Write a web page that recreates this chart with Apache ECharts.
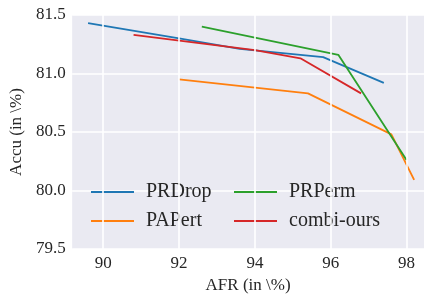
<!DOCTYPE html>
<html><head><meta charset="utf-8">
<script src="https://cdn.jsdelivr.net/npm/echarts@6/dist/echarts.min.js"></script>
<style>html,body{margin:0;padding:0;background:#fff}#c{width:424px;height:299px}</style>
</head><body><div id="c"></div>
<script>
const seriesNames = ['PRDrop', 'PAPert', 'PRPerm', 'combi-ours'];
const prdropX = [89.6, 92.0, 93.6, 95.8, 97.4];
const prdropY = [81.43, 81.30, 81.21, 81.14, 80.92];
const papertX = [92.0, 95.4, 97.6, 98.2];
const papertY = [80.95, 80.83, 80.48, 80.09];
const prpermX = [92.6, 96.2, 98.0];
const prpermY = [81.40, 81.16, 80.26];
const combiX = [90.8, 94.0, 95.2, 96.8];
const combiY = [81.33, 81.20, 81.13, 80.83];
const xTicks = [90, 92, 94, 96, 98];
const yTicks = [79.5, 80.0, 80.5, 81.0, 81.5];
const colors = ['#1f77b4', '#ff7f0e', '#2ca02c', '#d62728'];

const font = 'Liberation Serif';
const pair = (xs, ys) => xs.map((x, i) => [x, ys[i]]);
const allData = [pair(prdropX, prdropY), pair(papertX, papertY), pair(prpermX, prpermY), pair(combiX, combiY)];

const chart = echarts.init(document.getElementById('c'), null, {renderer: 'canvas'});
const legendCommon = {
  orient: 'vertical', top: 177, itemWidth: 43, itemHeight: 10, itemGap: 9,
  icon: 'path://M0,0 L43,0 L43,1.8 L0,1.8 Z',
  textStyle: {fontFamily: font, fontSize: 20, color: '#262626', padding: [0, 0, 0, 7]}
};
chart.setOption({
  animation: false,
  backgroundColor: '#fff',
  grid: {left: 68.5, right: 0, top: 15, bottom: 49, show: true, backgroundColor: '#EAEAF2', borderWidth: 0},
  legend: [
    Object.assign({}, legendCommon, {left: 86, data: ['PRDrop', 'PAPert']}),
    Object.assign({}, legendCommon, {left: 229, data: ['PRPerm', 'combi-ours']})
  ],
  xAxis: {
    type: 'value', min: 89.18, max: 98.46,
    name: 'AFR (in \\%)', nameLocation: 'middle', nameGap: 28,
    nameTextStyle: {fontFamily: font, fontSize: 17, color: '#262626'},
    axisLine: {show: false}, axisTick: {show: false, customValues: xTicks},
    axisLabel: {customValues: xTicks, fontFamily: font, fontSize: 17, color: '#262626', margin: 6, formatter: v => String(Math.round(v))},
    splitLine: {show: false}
  },
  yAxis: {
    type: 'value', min: 79.5, max: 81.5, interval: 0.5,
    name: 'Accu (in \\%)', nameLocation: 'middle', nameGap: 41,
    nameTextStyle: {fontFamily: font, fontSize: 17, color: '#262626'},
    axisLine: {show: false}, axisTick: {show: false},
    axisLabel: {fontFamily: font, fontSize: 17, color: '#262626', margin: 6.5, formatter: v => v.toFixed(1)},
    splitLine: {show: true, lineStyle: {color: '#fff', width: 1.6}}
  },
  series: [
    {type: 'line', name: '__grid', data: [], silent: true, z: 1,
     markLine: {silent: true, symbol: 'none', label: {show: false},
       lineStyle: {color: '#fff', width: 1.6, type: 'solid'},
       data: xTicks.map(v => ({xAxis: v}))}}
  ].concat(seriesNames.map((n, i) => ({
    type: 'line', name: n, data: allData[i], showSymbol: false, symbol: 'none', z: 3,
    lineStyle: {color: colors[i], width: 1.8}, itemStyle: {color: colors[i]}
  })))
});
</script></body></html>
